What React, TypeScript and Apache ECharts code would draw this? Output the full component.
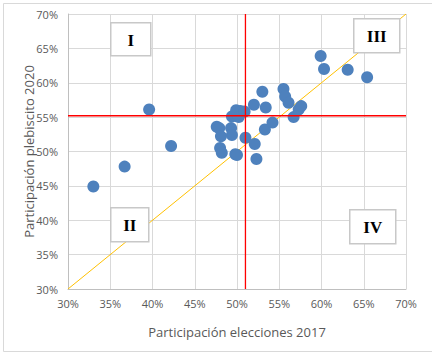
import React, { useEffect, useRef } from "react";
import * as echarts from "echarts";

const xVals2017 = [33.0, 36.7, 39.6, 42.2, 47.6, 47.9, 48.1, 49.3, 49.4, 48.0, 48.2, 49.8, 50.0, 49.4, 49.9, 50.4, 50.2, 50.9, 51.0, 52.0, 52.1, 52.3, 53.0, 53.4, 53.3, 54.2, 55.5, 55.7, 56.1, 56.7, 57.3, 57.6, 59.9, 60.3, 63.1, 65.4];
const yVals2020 = [44.9, 47.8, 56.1, 50.8, 53.6, 53.4, 52.2, 53.4, 52.4, 50.5, 49.8, 49.6, 49.5, 55.1, 56.0, 55.9, 55.0, 55.8, 52.0, 56.8, 51.1, 48.9, 58.7, 56.4, 53.2, 54.2, 59.1, 58.0, 57.1, 55.0, 56.1, 56.6, 63.9, 62.0, 61.9, 60.8];
const meanX = 51.0;
const meanY = 55.2;
const axisMin = 30;
const axisMax = 70;
const diagonal = [[axisMin, axisMin], [axisMax, axisMax]];
const quadrantLabels = ["I", "II", "III", "IV"];

export default function App() {
  const ref = useRef<HTMLDivElement>(null);
  useEffect(() => {
    const chart = echarts.init(ref.current!, null, { renderer: "svg" });
    const points = xVals2017.map((x, i) => [x, yVals2020[i]]);
    const box = (x: number, y: number, w: number, h: number, label: string) => ({
      type: "group",
      left: x,
      top: y,
      z: 100,
      children: [
        { type: "rect", z: 100, shape: { x: 0, y: 0, width: w, height: h }, style: { fill: "#fff", stroke: "#c8c8c8", lineWidth: 1.5 } },
        {
          type: "text",
          z: 101,
          x: w / 2,
          y: h / 2 + 1,
          style: { text: label, fill: "#000", font: "bold 17px 'Liberation Serif', serif", textAlign: "center", textVerticalAlign: "middle" },
        },
      ],
    });
    const axisCommon = {
      type: "value",
      min: axisMin,
      max: axisMax,
      interval: 5,
      nameLocation: "middle",
      nameMoveOverlap: false,
      nameTextStyle: { color: "#595959", fontSize: 13, fontFamily: "Open Sans" },
      axisLine: { show: true, lineStyle: { color: "#bfbfbf" } },
      axisTick: { show: false },
      splitLine: { show: true, lineStyle: { color: "#d9d9d9" } },
    };
    chart.setOption({
      animation: false,
      backgroundColor: "#fff",
      grid: { left: 68, right: 26, top: 14, bottom: 63, containLabel: false },
      xAxis: {
        ...axisCommon,
        name: "Participación elecciones 2017",
        nameGap: 36,
        axisLabel: { formatter: (v: number) => `${v}%`, color: "#595959", fontSize: 11, fontFamily: "Open Sans", margin: 9 },
      },
      yAxis: {
        ...axisCommon,
        name: "Participación plebiscito 2020",
        nameGap: 33,
        axisLabel: { formatter: (v: number) => `${v}%`, color: "#595959", fontSize: 11, fontFamily: "Open Sans", margin: 10 },
      },
      series: [
        {
          type: "line",
          data: diagonal,
          symbol: "none",
          lineStyle: { color: "#FFC000", width: 1 },
          z: 1,
          silent: true,
        },
        {
          type: "scatter",
          data: points,
          symbolSize: 12,
          itemStyle: { color: "#4E81BD", opacity: 1 },
          z: 2,
        },
        {
          type: "line",
          data: [[meanX, axisMin], [meanX, axisMax]],
          symbol: "none",
          lineStyle: { color: "#FF0000", width: 1.3 },
          z: 5,
          silent: true,
        },
        {
          type: "line",
          data: [[axisMin, meanY], [axisMax, meanY]],
          symbol: "none",
          lineStyle: { color: "#FF0000", width: 1.3 },
          z: 5,
          silent: true,
        },
      ],
      graphic: [
        { type: "rect", left: 1, top: 1, shape: { x: 0, y: 0, width: 429, height: 348 }, style: { fill: "none", stroke: "#d9d9d9", lineWidth: 1 }, z: 0 },
        box(110, 22, 40, 33, quadrantLabels[0]),
        box(110, 207, 38, 34, quadrantLabels[1]),
        box(353, 18, 46, 34, quadrantLabels[2]),
        box(349, 209, 46, 34, quadrantLabels[3]),
      ],
    });
    return () => chart.dispose();
  }, []);
  return <div ref={ref} style={{ width: 432, height: 352, position: "absolute", left: 0, top: 0 }} />;
}
